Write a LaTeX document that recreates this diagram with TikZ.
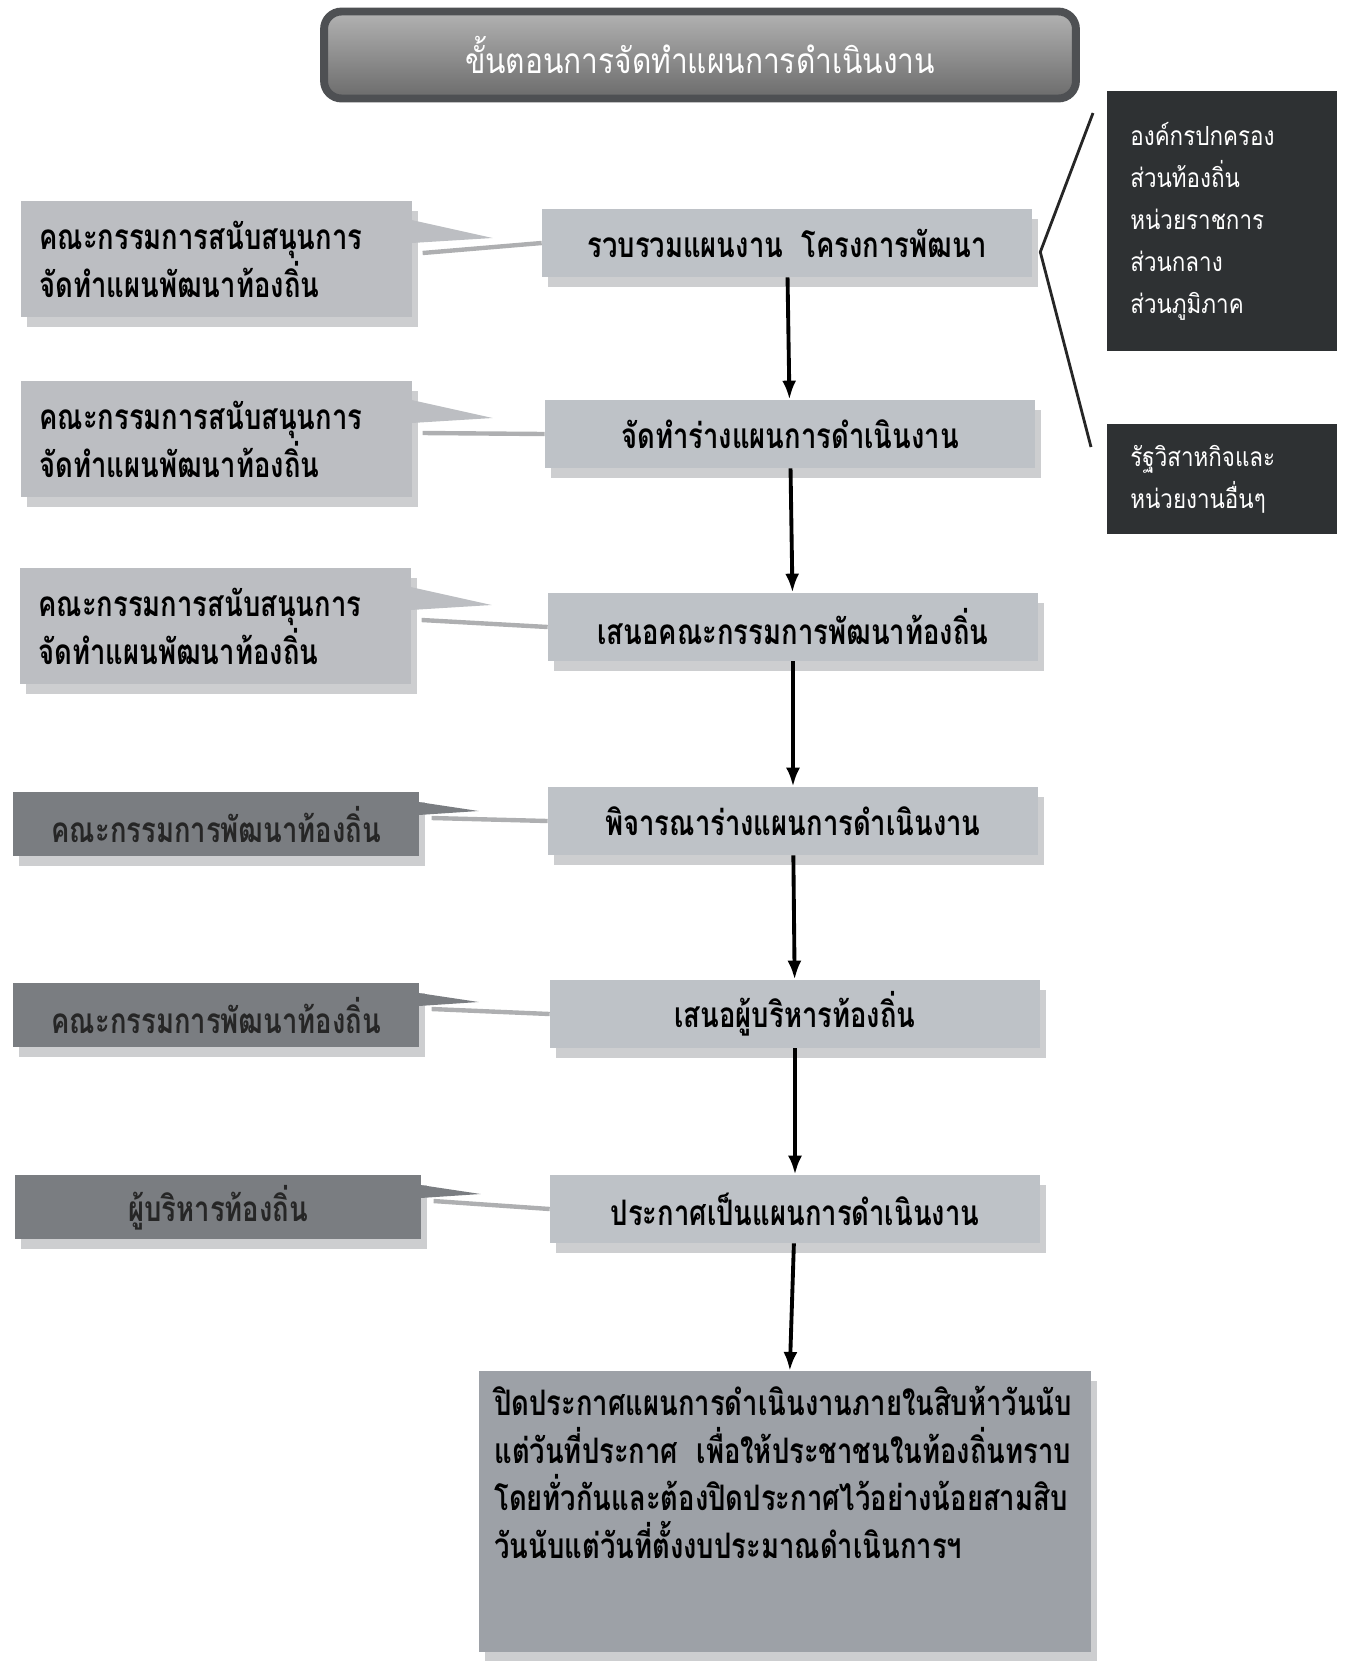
\documentclass[tikz,border=0pt]{standalone}
\usepackage{fontspec}
\newfontfamily\thaifont[Script=Thai,FakeStretch=0.85]{Loma}
\newfontfamily\thaicond[Script=Thai,FakeStretch=0.78]{Loma}
\usetikzlibrary{positioning,shadows,arrows.meta}

\definecolor{boxgray}{RGB}{190,194,199}
\definecolor{notegray}{RGB}{188,190,194}
\definecolor{notedark}{RGB}{122,125,129}
\definecolor{agencybg}{RGB}{46,49,51}
\definecolor{finalgray}{RGB}{157,161,167}
\definecolor{titlerim}{RGB}{78,80,83}
\definecolor{shadegray}{RGB}{205,206,208}

\tikzset{
  boxtext/.style={font=\thaicond\bfseries\fontsize{20}{27}\selectfont},
  boxshade/.style={general shadow={fill=shadegray,shadow xshift=0.12cm,shadow yshift=-0.2cm}},
  mainbox/.style={boxtext,boxshade,fill=boxgray,minimum width=9.8cm,minimum height=1.36cm,inner sep=0pt},
  notebox/.style={boxtext,boxshade,fill=notegray,anchor=north west,text width=7.1cm,inner xsep=0.36cm,minimum height=2.32cm,align=left},
  notedarkbox/.style={boxtext,boxshade,fill=notedark,text=black!85,anchor=north west,minimum width=8.12cm,minimum height=1.28cm},
  agencybox/.style={fill=agencybg,text=white,anchor=north west,text width=3.68cm,inner xsep=0.46cm,align=left,
    font=\thaifont\fontsize{15}{24}\selectfont},
  flow/.style={-{Latex[length=0.38cm,width=0.28cm]},line width=2.2pt},
  linkline/.style={draw=shadegray!85!black,line width=2.5pt},
  bracketline/.style={line width=1.6pt,black!85}
}

\begin{document}
\begin{tikzpicture}[x=0.02cm,y=-0.02cm]
\useasboundingbox (0,0) rectangle (1345,1661);

\node[draw=titlerim,line width=4.5pt,rounded corners=0.35cm,top color=black!30,bottom color=black!58,
  minimum width=15.04cm,minimum height=1.74cm,text=white,font=\thaifont\fontsize{20}{24}\selectfont]
  (title) at (700,55) {ขั้นตอนการจัดทำแผนการดำเนินงาน};

\node[mainbox] (p1) at (787,243) {รวบรวมแผนงาน\ \ โครงการพัฒนา};
\node[mainbox] (p2) at (790,434) {จัดทำร่างแผนการดำเนินงาน};
\node[mainbox] (p3) at (793,627) {เสนอคณะกรรมการพัฒนาท้องถิ่น};
\node[mainbox] (p4) at (793,821) {พิจารณาร่างแผนการดำเนินงาน};
\node[mainbox] (p5) at (795,1014) {เสนอผู้บริหารท้องถิ่น};
\node[mainbox] (p6) at (795,1209) {ประกาศเป็นแผนการดำเนินงาน};
\node[boxtext,boxshade,fill=finalgray,anchor=north west,inner xsep=0.3cm,inner ysep=0.3cm] (p7) at (479,1371)
  {\parbox[c][5.02cm][t]{11.64cm}{\raggedright
   ปิดประกาศแผนการดำเนินงานภายในสิบห้าวันนับ\\
   แต่วันที่ประกาศ\ \ เพื่อให้ประชาชนในท้องถิ่นทราบ\\
   โดยทั่วกันและต้องปิดประกาศไว้อย่างน้อยสามสิบ\\
   วันนับแต่วันที่ตั้งงบประมาณดำเนินการฯ}};

\node[notebox] (c1) at (21,201) {คณะกรรมการสนับสนุนการ\\จัดทำแผนพัฒนาท้องถิ่น};
\node[notebox] (c2) at (21,381) {คณะกรรมการสนับสนุนการ\\จัดทำแผนพัฒนาท้องถิ่น};
\node[notebox] (c3) at (20,568) {คณะกรรมการสนับสนุนการ\\จัดทำแผนพัฒนาท้องถิ่น};
\node[notedarkbox] (c4) at (13,792) {คณะกรรมการพัฒนาท้องถิ่น};
\node[notedarkbox] (c5) at (13,983) {คณะกรรมการพัฒนาท้องถิ่น};
\node[notedarkbox] (c6) at (15,1175) {ผู้บริหารท้องถิ่น};

\node[agencybox,minimum height=5.2cm] (agA) at (1107,91)
  {องค์กรปกครอง\\ส่วนท้องถิ่น\\หน่วยราชการ\\ส่วนกลาง\\ส่วนภูมิภาค};
\node[agencybox,minimum height=2.2cm] (agB) at (1107,424) {รัฐวิสาหกิจและ\\หน่วยงานอื่นๆ};

\foreach \c/\p in {c1/p1,c2/p2,c3/p3}{
  \draw[linkline] (\c.north east) ++(10,52) -- (\p.west);
  \fill[notegray] (\c.north east) ++(-1,19) -- ++(81,18) -- ++(-81,5) -- cycle;
}
\foreach \c/\p in {c4/p4,c5/p5,c6/p6}{
  \draw[linkline] (\c.north east) ++(12,26) -- (\p.west);
  \fill[notedark] (\c.north east) ++(-1,10) -- ++(60,9) -- ++(-60,4) -- cycle;
}

\foreach \a/\b in {p1/p2,p2/p3,p3/p4,p4/p5,p5/p6,p6/p7}
  \draw[flow] (\a) -- (\b);

\coordinate (brtop) at (1093,113);
\coordinate (brbot) at (1091,447);
\draw[bracketline] (brtop) -- ([shift={(8,9)}]p1.east) -- (brbot);
\end{tikzpicture}
\end{document}
